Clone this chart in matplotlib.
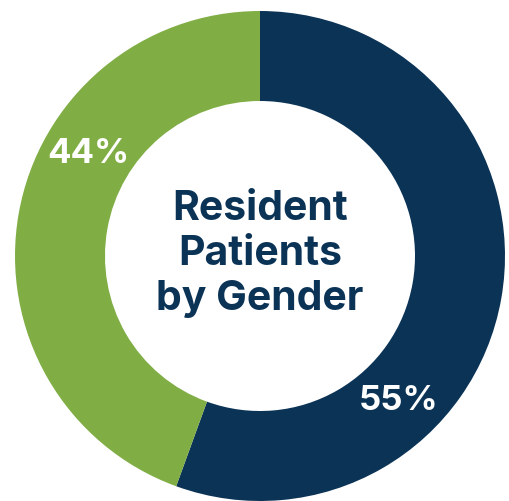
import numpy as np
import matplotlib.pyplot as plt

# Resident patients by gender (percent)
labels = ["55%", "44%"]
values = [55, 44]
colors = ["#0b3356", "#80ae45"]
label_angles = [-46, 149]  # where each percent label sits on the ring (deg)
title = "Resident\nPatients\nby Gender"

R = 245      # outer radius in pixels
ring = 90    # ring thickness in pixels

fig = plt.figure(figsize=(5.10, 5.02), dpi=100)
ax = fig.add_axes([0, 0, 1, 1])

ax.pie(values, colors=colors, radius=R, startangle=90, counterclock=False,
       wedgeprops=dict(width=ring, linewidth=0))

# percent labels in the middle of the ring
mid = R - ring / 2
for lab, ang in zip(labels, label_angles):
    a = np.deg2rad(ang)
    ax.text(mid * np.cos(a), mid * np.sin(a), lab, color="white",
            fontsize=25, fontweight="bold", family="Inter",
            ha="center", va="center")

ax.text(0, 3, title, color=colors[0], fontsize=29.5, fontweight="bold",
        family="Inter", ha="center", va="center", linespacing=1.22)

ax.set_xlim(-260, 250)
ax.set_ylim(-245, 257)
ax.set_aspect("auto")
ax.axis("off")

fig.savefig("out.png", dpi=100)
